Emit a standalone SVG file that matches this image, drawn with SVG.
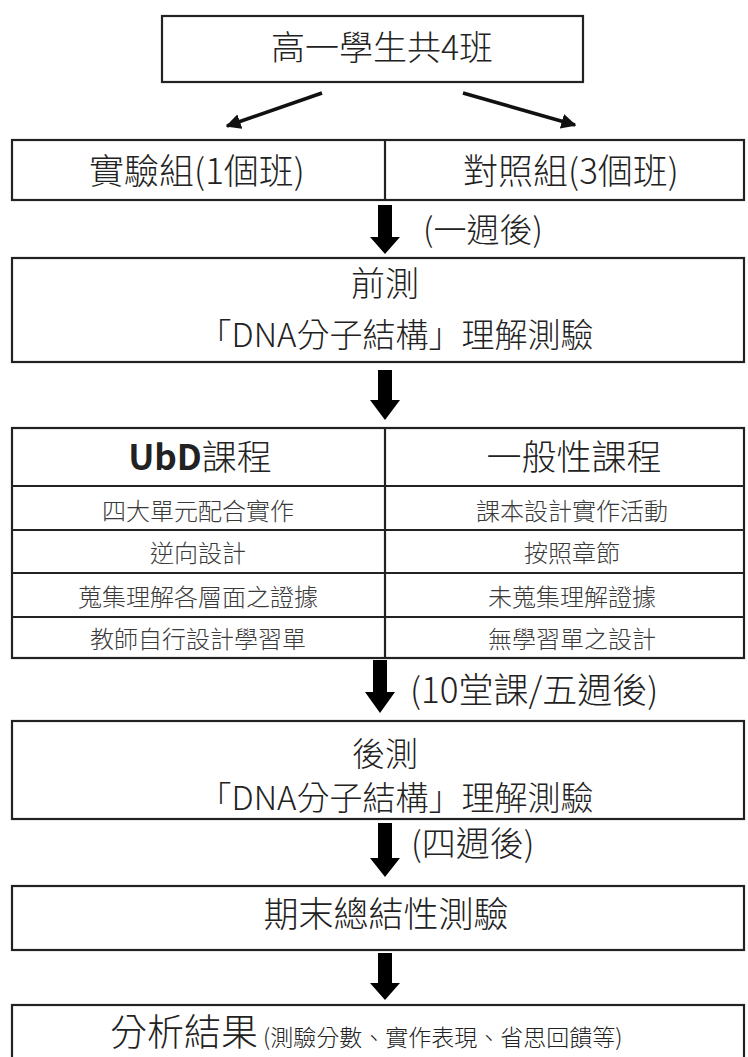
<svg xmlns="http://www.w3.org/2000/svg" width="748" height="1057" viewBox="0 0 748 1057">
<style>
.box{fill:#fff;stroke:#222;stroke-width:2.2}
.ln{stroke:#222;stroke-width:2.2;fill:none}
text{font-family:"Noto Sans CJK TC","Noto Sans CJK JP",sans-serif;font-weight:300;fill:#222}
.m{text-anchor:middle}
.row{font-size:24px;fill:#3a3a3a}
.big{fill:#000}
</style>
<defs>
<marker id="ah" viewBox="0 0 10 10" refX="9" refY="5" markerWidth="4.2" markerHeight="4.2" orient="auto" markerUnits="strokeWidth">
<path d="M0,0 L10,5 L0,10 z" fill="#111"/>
</marker>
</defs>
<rect width="748" height="1057" fill="#fff"/>

<g id="connectors">
<line x1="322" y1="93" x2="227" y2="126" stroke="#111" stroke-width="3.6" marker-end="url(#ah)"/>
<line x1="463" y1="93" x2="575" y2="125" stroke="#111" stroke-width="3.6" marker-end="url(#ah)"/>
<polygon class="big" points="378,205 392,205 392,237 400,237 385,254 370,237 378,237"/>
<polygon class="big" points="378,370 392,370 392,400 400,400 385,420 370,400 378,400"/>
<polygon class="big" points="373,660 387,660 387,692 395,692 380,713 365,692 373,692"/>
<polygon class="big" points="378,823 392,823 392,858 400,858 385,877 370,858 378,858"/>
<polygon class="big" points="378,953 392,953 392,983 400,983 385,1000 370,983 378,983"/>
<text x="423" y="242" font-size="33">(一週後)</text>
<text x="410" y="703" font-size="35">(10堂課/五週後)</text>
<text x="411" y="856" font-size="34">(四週後)</text>
</g>

<g id="n-top">
<rect class="box" x="162" y="16" width="421" height="66"/>
<text class="m" x="382" y="60" font-size="34">高一學生共4班</text>
</g>

<g id="n-groups">
<rect class="box" x="12" y="140" width="732" height="60"/>
<line class="ln" x1="385" y1="140" x2="385" y2="200"/>
<text class="m" x="197" y="184" font-size="35">實驗組(1個班)</text>
<text class="m" x="571" y="184" font-size="35">對照組(3個班)</text>
</g>

<g id="n-pretest">
<rect class="box" x="12" y="258" width="732" height="104"/>
<text class="m" x="385" y="296" font-size="34">前測</text>
<text class="m" x="396" y="347" font-size="33">「DNA分子結構」理解測驗</text>
</g>

<g id="n-table">
<rect class="box" x="12" y="428" width="732" height="230"/>
<line class="ln" x1="385" y1="428" x2="385" y2="658"/>
<line class="ln" x1="12" y1="486" x2="744" y2="486"/>
<line class="ln" x1="12" y1="530" x2="744" y2="530"/>
<line class="ln" x1="12" y1="573" x2="744" y2="573"/>
<line class="ln" x1="12" y1="617" x2="744" y2="617"/>
<text class="m" x="200" y="470" font-size="35"><tspan font-weight="bold">UbD</tspan>課程</text>
<text class="m" x="574" y="470" font-size="35">一般性課程</text>
<text class="m row" x="198" y="520">四大單元配合實作</text>
<text class="m row" x="572" y="520">課本設計實作活動</text>
<text class="m row" x="198" y="562">逆向設計</text>
<text class="m row" x="572" y="562">按照章節</text>
<text class="m row" x="198" y="606">蒐集理解各層面之證據</text>
<text class="m row" x="572" y="606">未蒐集理解證據</text>
<text class="m row" x="198" y="648">教師自行設計學習單</text>
<text class="m row" x="572" y="648">無學習單之設計</text>
</g>

<g id="n-posttest">
<rect class="box" x="12" y="721" width="732" height="98"/>
<text class="m" x="385" y="766" font-size="33">後測</text>
<text class="m" x="396" y="810" font-size="33">「DNA分子結構」理解測驗</text>
</g>

<g id="n-final">
<rect class="box" x="12" y="886" width="732" height="64"/>
<text class="m" x="386" y="927" font-size="35">期末總結性測驗</text>
</g>

<g id="n-result">
<rect class="box" x="12" y="1005" width="732" height="60"/>
<text x="110" y="1046" font-size="37">分析結果<tspan font-size="23"> (測驗分數、實作表現、省思回饋等)</tspan></text>
</g>
</svg>
